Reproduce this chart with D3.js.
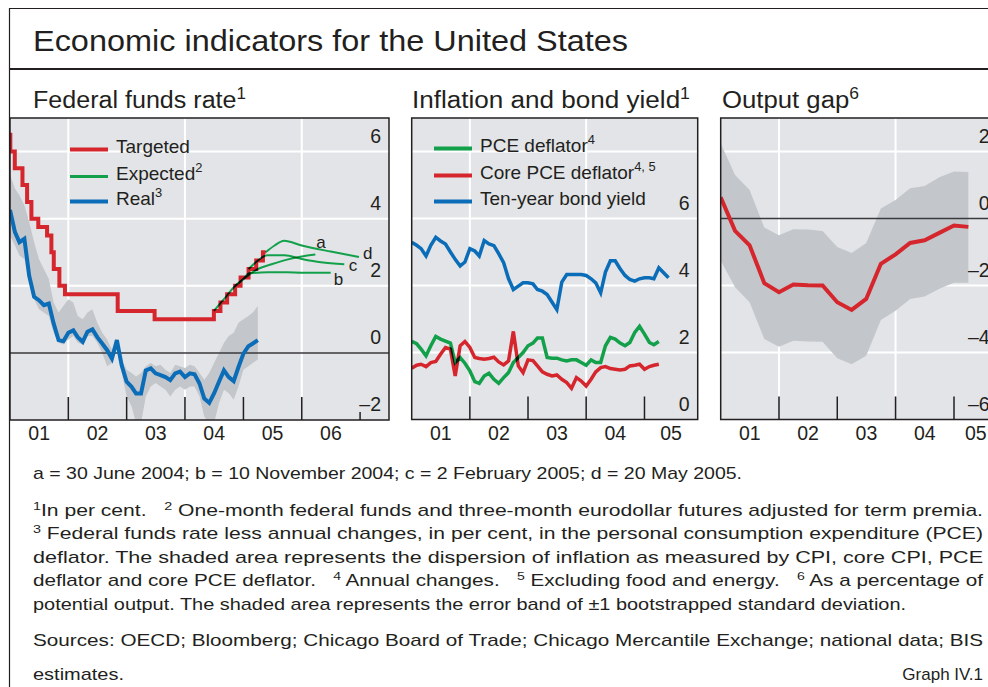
<!DOCTYPE html>
<html>
<head>
<meta charset="utf-8">
<script src="https://cdn.jsdelivr.net/npm/d3@7"></script>
<style>
  body { margin: 0; background: #fff; }
  svg text { font-family: "Liberation Sans", Arial, sans-serif; fill: #231f20; white-space: pre; }
  svg text.narrow { font-family: "Liberation Sans Narrow", "Liberation Sans", Arial, sans-serif; }
</style>
</head>
<body>
<svg id="chart" width="988" height="687"></svg>
<script>
const parse = d3.timeParse("%Y-%m-%d");

// ---- Federal funds rate panel ----
const targetDates = ["2001-01-01","2001-01-03","2001-01-31","2001-03-20","2001-04-18","2001-05-15","2001-06-27",
  "2001-08-21","2001-09-17","2001-10-02","2001-11-06","2001-12-11","2002-11-06","2003-06-25","2004-06-30",
  "2004-08-10","2004-09-21","2004-11-10","2004-12-14","2005-02-02","2005-03-22","2005-05-03","2005-05-20"];
const targetRate = [6.5,6.0,5.5,5.0,4.5,4.0,3.75,3.5,3.0,2.5,2.0,1.75,1.25,1.0,1.25,1.5,1.75,2.0,2.25,2.5,2.75,3.0,3.0];

// monthly, from January 2001
const realRate = [4.26,3.6,3.3,3.4,2.3,1.67,1.57,1.42,1.47,0.88,0.38,0.35,0.6,0.67,0.47,0.33,0.63,0.7,0.47,0.28,
  0.08,-0.17,0.38,-0.37,-0.86,-1.01,-1.21,-1.21,-0.52,-0.46,-0.61,-0.66,-0.72,-0.81,-0.61,-0.56,-0.72,-0.61,-0.64,
  -0.91,-1.36,-1.49,-1.21,-0.86,-0.52,-0.72,-0.84,-0.42,-0.02,0.2,0.28,0.38];
const realHigh = [5.3,4.9,4.7,4.4,3.9,3.3,2.8,2.5,2.2,1.5,1.2,1.4,1.6,1.5,1.1,1.0,1.2,1.3,0.9,0.6,
  0.4,0.1,0.4,-0.2,-0.5,-0.6,-0.7,-0.6,-0.4,-0.3,-0.4,-0.35,-0.5,-0.6,-0.35,-0.4,-0.45,-0.35,-0.4,
  -0.6,-0.8,-0.6,-0.3,0.0,0.3,0.5,0.6,0.9,1.0,1.1,1.2,1.4];
const realLow = [3.5,3.2,2.9,2.8,2.1,1.6,1.3,1.2,1.1,0.6,0.3,0.25,0.4,0.5,0.3,0.25,0.5,0.5,0.3,0.0,
  -0.4,-0.3,0.1,-0.6,-1.3,-1.6,-2.1,-2.1,-1.3,-1.0,-0.9,-1.0,-1.1,-1.3,-1.1,-1.0,-1.1,-1.0,-1.0,
  -1.3,-1.9,-2.1,-2.1,-1.5,-1.1,-1.2,-1.4,-1.0,-0.5,-0.4,-0.3,-0.2];

// expected paths (a, b, c, d)
const expADates = ["2004-06-30","2004-09-01","2004-11-01","2005-01-01","2005-04-01","2005-07-01","2005-10-01","2006-01-01","2006-03-27"];
const expAValues = [1.25,1.6,1.95,2.2,2.5,2.65,2.78,2.87,2.93];
const expBDates = ["2004-11-10","2005-01-01","2005-02-05","2005-06-01","2005-10-01","2006-01-01","2006-07-01"];
const expBValues = [2.0,2.2,2.37,2.4,2.4,2.39,2.39];
const expCDates = ["2005-02-02","2005-04-01","2005-05-30","2005-09-15","2006-01-01","2006-05-01","2006-09-24"];
const expCValues = [2.5,2.75,2.91,2.91,2.8,2.7,2.64];
const expDDates = ["2005-05-20","2005-07-15","2005-09-12","2006-01-01","2006-07-01","2006-12-25"];
const expDValues = [3.0,3.2,3.34,3.2,3.02,2.86];

// ---- Inflation and bond yield panel (monthly from January 2001) ----
const pceDeflator = [2.33,2.26,2.1,1.9,2.2,2.48,2.4,2.34,2.28,1.7,1.85,1.68,1.45,1.13,1.08,1.3,1.38,1.2,1.08,1.25,
  1.4,1.7,1.85,2.0,2.2,2.28,2.43,2.43,1.85,1.83,1.83,1.78,1.75,1.78,1.78,1.7,1.62,1.78,1.7,1.7,
  2.2,2.45,2.4,2.28,2.2,2.3,2.6,2.78,2.55,2.3,2.23,2.33];
const corePce = [1.53,1.62,1.65,1.58,1.7,1.73,1.95,2.15,2.1,1.3,2.2,2.33,2.15,1.85,1.82,1.8,1.82,1.86,1.72,1.63,
  1.75,2.63,1.6,1.4,1.78,1.76,1.6,1.42,1.35,1.3,1.33,1.2,1.1,0.93,1.25,1.15,1.0,1.2,1.42,1.55,
  1.58,1.52,1.5,1.48,1.5,1.6,1.62,1.65,1.5,1.58,1.62,1.65];
const bondYield = [5.29,5.2,5.1,4.88,5.2,5.44,5.33,5.24,5.0,4.78,4.58,4.7,5.1,5.03,4.88,5.34,5.24,5.19,4.95,4.68,
  4.2,3.88,3.98,4.08,4.08,4.05,3.88,3.83,3.73,3.5,3.28,4.1,4.33,4.33,4.33,4.33,4.3,4.2,4.08,3.78,
  4.4,4.74,4.74,4.5,4.3,4.18,4.13,4.2,4.23,4.23,4.2,4.53,4.38,4.23];

// ---- Output gap panel (quarterly from 2001 Q1) ----
const outputGap = [0.63,-0.37,-0.8,-1.93,-2.2,-1.97,-1.99,-2.0,-2.5,-2.73,-2.4,-1.35,-1.07,-0.73,-0.65,-0.43,-0.21,-0.25];
const gapHigh = [2.25,1.3,0.85,-0.27,-0.5,-0.32,-0.33,-0.37,-0.85,-1.03,-0.73,0.3,0.55,0.9,0.97,1.23,1.4,1.39];
const gapLow = [-1.25,-2.05,-2.5,-3.6,-3.83,-3.65,-3.67,-3.68,-4.17,-4.35,-4.1,-3.03,-2.75,-2.4,-2.33,-2.1,-1.92,-1.92];

const colors = { red: "#d6262d", green: "#13a04b", blue: "#0b6db7", bg: "#e2e4e7", band: "#c3c7cc", ink: "#231f20" };

const svg = d3.select("#chart");
const start = parse("2001-01-01");
const monthly = arr => arr.map((v, i) => ({ date: d3.timeMonth.offset(start, i), value: v }));
const quarterly = arr => arr.map((v, i) => ({ date: d3.timeMonth.offset(start, 3 * i), value: v }));
const paired = (dates, vals) => dates.map((d, i) => ({ date: parse(d), value: vals[i] }));

// frame
svg.append("path").attr("d", "M9.5,687 V8.5 H988").attr("fill", "none").attr("stroke", colors.ink).attr("stroke-width", 1.2);
svg.append("line").attr("x1", 9).attr("x2", 988).attr("y1", 69).attr("y2", 69).attr("stroke", colors.ink).attr("stroke-width", 2);

function richText(g, x, y, parts, size, cls) {
  const t = g.append("text").attr("x", x).attr("y", y).attr("font-size", size);
  if (cls) t.attr("class", cls);
  let up = false;
  parts.forEach(p => {
    const sup = Array.isArray(p);
    const s = t.append("tspan").text(sup ? p[0] : p);
    if (sup && !up) { s.attr("dy", -size * 0.38).attr("font-size", size * 0.68); up = true; }
    else if (sup) { s.attr("font-size", size * 0.68); }
    else if (up) { s.attr("dy", size * 0.38); up = false; }
  });
  return t;
}

svg.append("text").attr("class", "narrow").attr("x", 33).attr("y", 51).attr("font-size", 30)
  .attr("textLength", 595).attr("lengthAdjust", "spacingAndGlyphs").text("Economic indicators for the United States");

richText(svg, 33, 108, ["Federal funds rate", ["1"]], 23, "narrow").attr("textLength", 213).attr("lengthAdjust", "spacingAndGlyphs");
richText(svg, 412, 108, ["Inflation and bond yield", ["1"]], 23, "narrow").attr("textLength", 278).attr("lengthAdjust", "spacingAndGlyphs");
richText(svg, 722, 108, ["Output gap", ["6"]], 23, "narrow").attr("textLength", 137).attr("lengthAdjust", "spacingAndGlyphs");

function makePanel(p) {
  const x = d3.scaleTime().domain(p.xDomain.map(parse)).range([p.left, p.right]);
  const y = d3.scaleLinear().domain(p.yDomain).range([p.bottom, p.top]);
  const back = svg.append("g");
  const clipId = "clip-" + p.id;
  svg.append("clipPath").attr("id", clipId).append("rect")
    .attr("x", p.left).attr("y", p.top).attr("width", p.right - p.left).attr("height", p.bottom - p.top);
  const plot = svg.append("g").attr("clip-path", `url(#${clipId})`);
  const front = svg.append("g");

  back.append("rect").attr("x", p.left).attr("y", p.top).attr("width", p.right - p.left).attr("height", p.bottom - p.top)
    .attr("fill", colors.bg);
  back.selectAll(".hgrid").data(p.yTicks.filter(v => v !== 0 && v !== p.yDomain[0])).join("line")
    .attr("x1", p.left).attr("x2", p.right).attr("y1", d => y(d)).attr("y2", d => y(d))
    .attr("stroke", "#fff").attr("stroke-width", 2);
  const years = d3.timeYear.range(d3.timeDay.offset(x.domain()[0], 1), x.domain()[1]);
  const tickLen = 23;
  back.selectAll(".vgrid").data(years.filter(d => d.getFullYear() % 2 === 0)).join("line")
    .attr("x1", d => x(d)).attr("x2", d => x(d)).attr("y1", p.top).attr("y2", p.bottom - tickLen)
    .attr("stroke", "#fff").attr("stroke-width", 2);

  front.selectAll(".xtick").data(years).join("line")
    .attr("x1", d => x(d)).attr("x2", d => x(d))
    .attr("y1", d => p.shortFrom && d >= parse(p.shortFrom) ? p.bottom - 8 : p.bottom - tickLen).attr("y2", p.bottom)
    .attr("stroke", colors.ink).attr("stroke-width", 1.5);
  front.append("rect").attr("x", p.left).attr("y", p.top).attr("width", p.right - p.left).attr("height", p.bottom - p.top)
    .attr("fill", "none").attr("stroke", colors.ink).attr("stroke-width", 1.5);

  front.selectAll(".ylab").data(p.yTicks.filter(v => !(p.hideTicks || []).includes(v))).join("text")
    .attr("x", p.right - 8).attr("y", d => y(d) - 9).attr("text-anchor", "end").attr("font-size", 19.5)
    .text(d => d < 0 ? "\u2013" + Math.abs(d) : d);

  // year labels centred in the visible part of each year; a stub shorter than 0.6 year is left unlabelled
  const [d0, d1] = x.domain();
  const yearMs = 365.25 * 864e5;
  const labelYears = d3.timeYear.range(d3.timeYear.floor(d0), d1)
    .filter(d => (d3.min([d3.timeYear.offset(d, 1), d1]) - d3.max([d, d0])) / yearMs >= 0.6);
  front.selectAll(".xlab").data(labelYears).join("text")
    .attr("x", d => (x(d3.max([d, d0])) + x(d3.min([d3.timeYear.offset(d, 1), d1]))) / 2)
    .attr("y", 440).attr("text-anchor", "middle").attr("font-size", 19.5)
    .text(d => d3.timeFormat("%y")(d));
  return { x, y, plot, front };
}

function addLine(panel, data, color, width, curve, blend) {
  const line = d3.line().x(d => panel.x(d.date)).y(d => panel.y(d.value)).curve(curve || d3.curveLinear);
  const path = panel.plot.append("path").datum(data).attr("d", line).attr("fill", "none")
    .attr("stroke", color).attr("stroke-width", width).attr("stroke-linejoin", "miter").attr("stroke-linecap", "butt");
  if (blend) path.style("mix-blend-mode", "multiply");
  return path;
}
function addBand(panel, data) {
  const area = d3.area().x(d => panel.x(d.date)).y0(d => panel.y(d.low)).y1(d => panel.y(d.high));
  panel.plot.append("path").datum(data).attr("d", area).attr("fill", colors.band);
}
function zeroLine(panel) {
  const [l, r] = panel.x.range();
  panel.plot.append("line").attr("x1", l).attr("x2", r).attr("y1", panel.y(0)).attr("y2", panel.y(0))
    .attr("stroke", "#3a3a3c").attr("stroke-width", 1.5);
}
function legend(g, x, rows) {
  rows.forEach(r => {
    g.append("line").attr("x1", x).attr("x2", x + 38).attr("y1", r.y).attr("y2", r.y)
      .attr("stroke", r.color).attr("stroke-width", r.width);
    richText(g, x + 46, r.y + 3.2, r.parts, 19);
  });
}

// ---- panel 1 ----
const p1 = makePanel({ id: "ff", left: 10, right: 389, top: 118, bottom: 420,
  xDomain: ["2001-01-01", "2007-07-01"], yDomain: [-2, 7], yTicks: [-2, 0, 2, 4, 6], shortFrom: "2007-01-01" });
addBand(p1, realRate.map((v, i) => ({ date: d3.timeMonth.offset(start, i), low: realLow[i], high: realHigh[i] })));
zeroLine(p1);
addLine(p1, paired(targetDates, targetRate), colors.red, 4, d3.curveStepAfter);
addLine(p1, monthly(realRate), colors.blue, 4);
const expected = [
  { name: "a", data: paired(expADates, expAValues), dx: 1, dy: -7 },
  { name: "b", data: paired(expBDates, expBValues), dx: 3, dy: 12 },
  { name: "c", data: paired(expCDates, expCValues), dx: 4.5, dy: 7 },
  { name: "d", data: paired(expDDates, expDValues), dx: 4, dy: 2 }
];
expected.forEach(e => {
  addLine(p1, e.data, colors.green, 2, d3.curveMonotoneX, true);
  const last = e.data[e.data.length - 1];
  p1.front.append("text").attr("x", p1.x(last.date) + e.dx).attr("y", p1.y(last.value) + e.dy)
    .attr("font-size", 17).text(e.name);
});
legend(p1.front, 70, [
  { y: 149.5, color: colors.red, width: 4, parts: ["Targeted"] },
  { y: 176.5, color: colors.green, width: 3, parts: ["Expected", ["2"]] },
  { y: 201.5, color: colors.blue, width: 4, parts: ["Real", ["3"]] }
]);

// ---- panel 2 ----
const p2 = makePanel({ id: "inf", left: 411.7, right: 697.7, top: 118, bottom: 419.5,
  xDomain: ["2001-01-01", "2005-12-01"], yDomain: [0, 9], yTicks: [0, 2, 4, 6, 8], hideTicks: [8] });
addLine(p2, monthly(bondYield), colors.blue, 3.5);
addLine(p2, monthly(pceDeflator), colors.green, 3.5);
addLine(p2, monthly(corePce), colors.red, 3.5, null, true);
legend(p2.front, 434, [
  { y: 148.5, color: colors.green, width: 4, parts: ["PCE deflator", ["4"]] },
  { y: 175.5, color: colors.red, width: 4, parts: ["Core PCE deflator", ["4, 5"]] },
  { y: 201.5, color: colors.blue, width: 4, parts: ["Ten-year bond yield"] }
]);

// ---- panel 3 ----
const p3 = makePanel({ id: "gap", left: 720.7, right: 997.6, top: 118, bottom: 419.5,
  xDomain: ["2001-01-01", "2005-10-01"], yDomain: [-6, 3], yTicks: [-6, -4, -2, 0, 2] });
addBand(p3, outputGap.map((v, i) => ({ date: d3.timeMonth.offset(start, 3 * i), low: gapLow[i], high: gapHigh[i] })));
zeroLine(p3);
addLine(p3, quarterly(outputGap), colors.red, 4);

// ---- notes ----
const notes = svg.append("g");
function note(y, parts, width) {
  const t = richText(notes, 33, y, parts, 17, "narrow");
  if (width) t.attr("textLength", width).attr("lengthAdjust", "spacingAndGlyphs");
  return t;
}
note(479, ["a = 30 June 2004; b = 10 November 2004; c = 2 February 2005; d = 20 May 2005."], 709);
note(516, [["1"], "In per cent.   ", ["2"], " One-month federal funds and three-month eurodollar futures adjusted for term premia."], 950);
note(539, [["3"], " Federal funds rate less annual changes, in per cent, in the personal consumption expenditure (PCE)"], 950);
note(563, ["deflator. The shaded area represents the dispersion of inflation as measured by CPI, core CPI, PCE"], 950);
note(586, ["deflator and core PCE deflator.   ", ["4"], " Annual changes.   ", ["5"], " Excluding food and energy.   ", ["6"], " As a percentage of"], 950);
note(610, ["potential output. The shaded area represents the error band of \u00b11 bootstrapped standard deviation."], 873);
note(646, ["Sources: OECD; Bloomberg; Chicago Board of Trade; Chicago Mercantile Exchange; national data; BIS"], 950);
note(680, ["estimates."], 91);
notes.append("text").attr("class", "narrow").attr("x", 983).attr("y", 680).attr("text-anchor", "end")
  .attr("font-size", 17).text("Graph IV.1");
</script>
</body>
</html>
